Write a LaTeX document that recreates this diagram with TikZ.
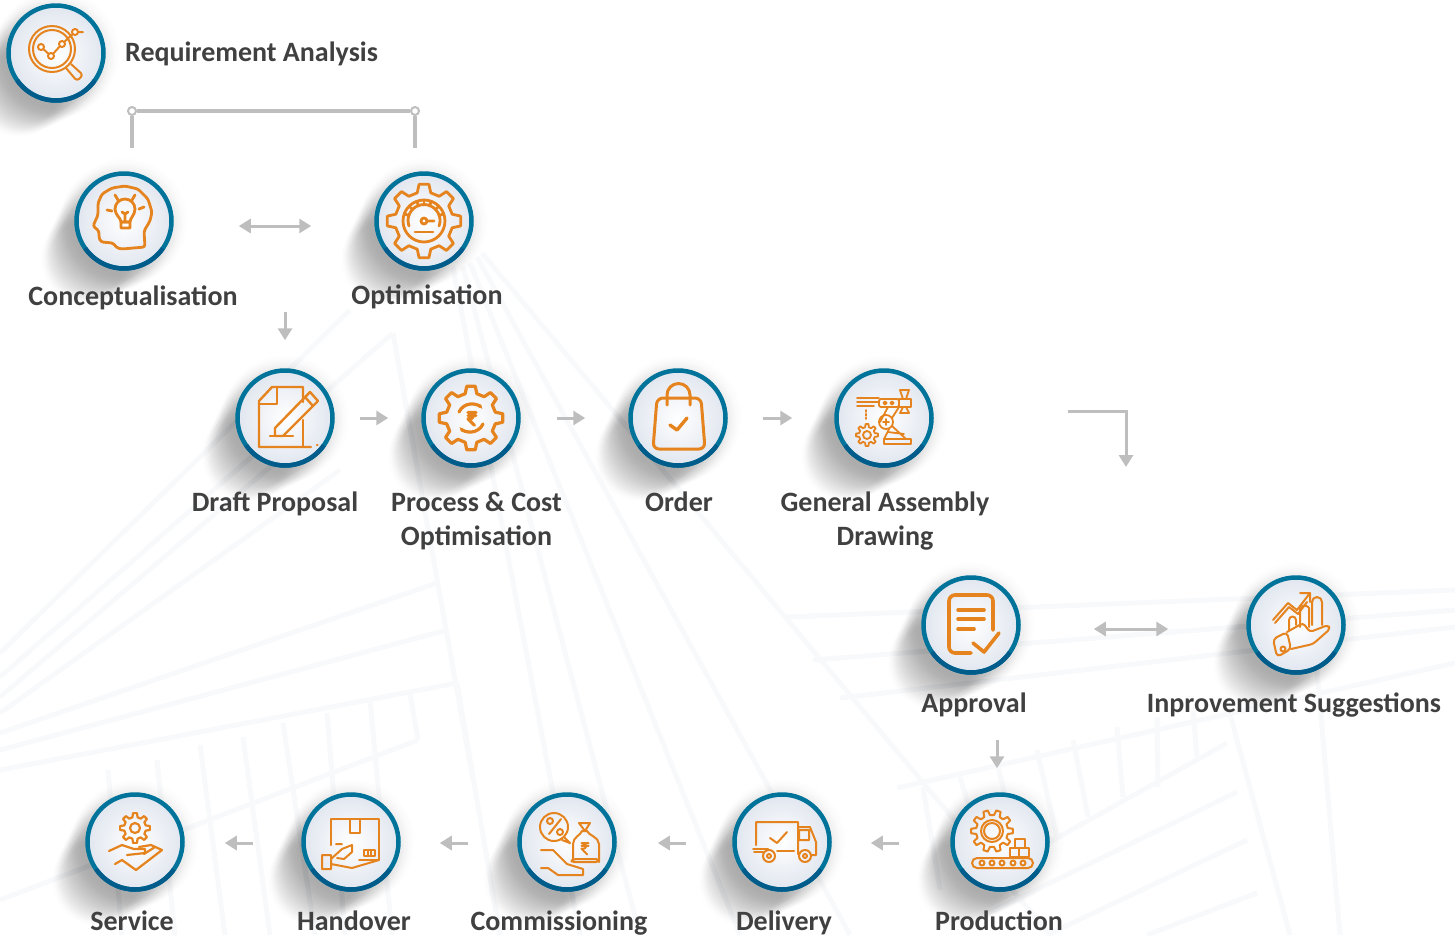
\documentclass[tikz,border=0pt]{standalone}
\usepackage{fontspec}
\setmainfont{Carlito}
\usetikzlibrary{arrows.meta,fadings}
\definecolor{ringblue}{HTML}{00739A}
\definecolor{ringdeep}{HTML}{005C8A}
\definecolor{ballrim}{HTML}{E1E6EF}
\definecolor{icoorange}{HTML}{E5841F}
\definecolor{flowgrey}{HTML}{BEBEBE}
\definecolor{lblgrey}{HTML}{404040}
\definecolor{bgstripe}{HTML}{F7F9FB}
\tikzset{
    ico/.style={draw=icoorange, line cap=round, line join=round},
    stage/.style={circle, draw=ringblue, line width=4.5pt, minimum size=95pt, inner sep=0pt, inner color=white, outer color=ballrim},
    lbl/.style={font=\bfseries\fontsize{28}{34}\selectfont, text=lblgrey, anchor=base, align=center, inner sep=0pt},
    flow/.style={-{Triangle[length=12pt,width=14pt]}, draw=flowgrey, line width=3pt},
    flowboth/.style={{Triangle[length=12pt,width=14pt]}-{Triangle[length=12pt,width=14pt]}, draw=flowgrey, line width=3pt},
    bgline/.style={draw=bgstripe, line width=5pt},
    ringend/.style={circle, draw=flowgrey, fill=white, line width=2pt, minimum size=8pt, inner sep=0pt}
}
\newcommand{\gearat}[5]{\begin{scope}[shift={(#1,#2)}]
    \pgfmathsetmacro\gs{360/#5}
    \draw[ico] ({-.3*\gs}:#4) \foreach \k in {1,...,#5} { -- ({(\k-1)*\gs-.17*\gs}:#3) -- ({(\k-1)*\gs+.17*\gs}:#3) -- ({(\k-1)*\gs+.3*\gs}:#4) -- ({\k*\gs-.3*\gs}:#4) } -- cycle;
\end{scope}}
\newcommand{\rupeeat}[3]{\begin{scope}[shift={(#1,#2)},scale=#3]
    \draw[ico] (-5,-7) -- (5,-7) (-5,-3) -- (5,-3) (-5,-7) .. controls (4,-7) and (4,2) .. (-5,1) -- (3,9);
\end{scope}}
\tikzset{
    pics/glow/.style={code={
        \foreach \k in {0,...,10} {
            \fill[black, opacity=.036, path fading=circle with fuzzy edge 20 percent] ({-3.8*\k},{3.8*\k}) circle ({64-1.8*\k});
        }
    }},
    pics/reqico/.style={code={
        \draw[ico] (-4,-4) circle (23) (-4,-4) circle (19);
        \draw[ico] (-15,-6) -- (-5,3) -- (6,-9) -- (19,-21) -- (27,-21);
        \foreach \p in {(-15,-6),(-5,3),(6,-9),(19,-21)} \draw[ico, fill=white] \p circle (3);
        \draw[ico, rounded corners=3pt] (10,15) -- (21,28) -- (27,22) -- (15,11);
    }},
    pics/headico/.style={code={
        \draw[ico, rounded corners=2.5pt] (21,26) -- (-2,28) -- (-7,27) -- (-11,22) -- (-23,21) -- (-25,17) -- (-25,10) -- (-31,5) -- (-26,-6) -- (-26,-18) -- (-22,-27) -- (-12,-33) -- (1,-35) -- (14,-32) -- (24,-22) -- (28,-9) -- (26,0) -- (20,10) -- cycle;
        \draw[ico] (-3,1) .. controls (-3,-3) and (-9,-6) .. (-9,-12) arc (180:360:10) .. controls (11,-6) and (6,-3) .. (6,1) -- cycle;
        \draw[ico] (-3,1) rectangle (6,7) (1,1) -- (1,-7) (-2,-9) -- (1,-7) -- (4,-9);
        \draw[ico] (-17,-11) -- (-12,-10) (-9,-26) -- (-6,-21) (11,-26) -- (8,-21) (20,-14) -- (15,-12);
    }},
    pics/dialico/.style={code={
        \gearat{0}{0}{37}{29}{8}
        \draw[ico] (0,0) circle (21);
        \draw[ico] (-15,5) arc (160:380:16);
        \foreach \a in {200,225,250,270,290,315,340} \draw[ico] (\a:16) -- (\a:21);
        \draw[ico] (0,0) circle (3) (3,0) -- (10,0);
        \draw[ico] (-9,11) -- (9,11);
    }},
    pics/draftico/.style={code={
        \draw[ico] (18,-16) -- (18,-31) -- (-13,-31) -- (-26,-17) -- (-26,29) -- (26,29);
        \draw[ico] (18,2) -- (18,29) (-8,-31) -- (-8,-14) -- (-26,-14);
        \draw[ico] (-10,10) -- (25,-26) -- (33,-17) -- (-2,18) -- (-10,18) -- cycle (20,-21) -- (28,-12);
        \draw[ico] (-15,18) -- (8,18) (32,27) -- (32.5,27);
    }},
    pics/costico/.style={code={
        \gearat{0}{0}{32}{25}{8}
        \draw[ico, -{Stealth[length=5pt]}] (-12,-6) arc (205:320:14);
        \draw[ico, -{Stealth[length=5pt]}] (12,6) arc (25:140:14);
        \rupeeat{1}{0}{.8}
    }},
    pics/bagico/.style={code={
        \draw[ico, rounded corners=6pt] (-21,-20) -- (23,-20) -- (27,31) -- (-25,31) -- cycle;
        \draw[ico] (-11,-13) -- (-11,-23) arc (180:360:11.5) -- (12,-13);
        \draw[ico, line width=3.4pt] (-8,7) -- (-1,12) -- (9,0);
    }},
    pics/robotico/.style={code={
        \draw[ico, rounded corners=2pt] (-5,-19) rectangle (15,-11);
        \draw[ico] (1,-15) circle (1.6) (8,-15) circle (1.6);
        \draw[ico] (-27,-20) -- (-5,-20) (-27,-16) -- (-5,-16) (-27,-12) -- (-10,-12);
        \draw[ico, dotted] (-18,-8) -- (-18,1);
        \draw[ico] (15,-19) rectangle (27,-11);
        \draw[ico] (16,-28) -- (25,-28) -- (22,-19) -- (19,-19) -- cycle (16,-5) -- (25,-5) -- (22,-11) -- (19,-11) -- cycle;
        \gearat{-17}{17}{11}{8}{8}
        \draw[ico] (-17,17) circle (4);
        \draw[ico] (2,4) circle (7) (-1,4) -- (5,4) (2,1) -- (2,7);
        \draw[ico] (4,-11) -- (-4,4) (15,-11) -- (8,0);
        \draw[ico] (5,11) -- (0,21) (8,8) -- (22,21) (4,14) -- (20,16);
        \draw[ico] (0,21) rectangle (27,26);
    }},
    pics/apprico/.style={code={
        \draw[ico, rounded corners=6pt] (22,5) -- (22,-30) -- (-22,-30) -- (-22,28) -- (0,28);
        \draw[ico] (-13,-15) -- (13,-15) (-13,-6) -- (13,-6) (-13,4) -- (3,4);
        \draw[ico] (2,18) -- (13,27) -- (28,8);
    }},
    pics/growico/.style={code={
        \draw[ico] (-23,-5) -- (-8,-22) -- (1,-15) -- (14,-32) (4,-32) -- (14,-32) -- (14,-23);
        \draw[ico] (-21,-2) -- (-7,-18) -- (2,-11) -- (11,-23);
        \draw[ico] (-7,5) -- (-7,-5) arc (180:360:3.5) -- (0,0);
        \draw[ico, rounded corners=2pt] (4,2) -- (4,-15) arc (180:360:4.5) -- (13,2);
        \draw[ico] (16,0) -- (16,-23) arc (180:360:5) -- (26,0);
        \draw[ico, rounded corners=4pt] (-23,14) -- (-9,7) -- (-5,24) -- (-19,32) -- cycle;
        \draw[ico, rounded corners=3pt] (-9,7) -- (7,-2) -- (14,7) -- (32,0) -- (34,4) -- (17,19) -- (-5,24);
        \draw[ico] (-13,24) circle (2.5);
    }},
    pics/prodico/.style={code={
        \gearat{-8}{-11}{21}{16}{10}
        \draw[ico] (-8,-11) circle (11) (-8,-11) circle (8);
        \draw[ico, rounded corners=5pt] (-28,16) rectangle (33,26);
        \foreach \x in {-18,-8,2,13,23} \draw[ico] (\x,21) circle (2.5);
        \draw[ico] (10,6) rectangle (19,15) (19,6) rectangle (29,15) (15,-3) rectangle (25,6);
    }},
    pics/truckico/.style={code={
        \draw[ico] (-26,3) -- (-26,-20) -- (16,-20) -- (16,12) (-12,-4) -- (-5,1) -- (5,-10);
        \draw[ico] (16,-15) -- (28,-15) -- (34,0) -- (34,13) -- (29,13) (17,-12) rectangle (27,-2);
        \draw[ico] (-13,14) circle (6) (-13,14) circle (2) (23,14) circle (6) (23,14) circle (2);
        \draw[ico] (-5,9) -- (12,9) (-29,7) -- (-14,7) (-28,10) -- (-19,10);
    }},
    pics/offerico/.style={code={
        \draw[ico] (-13,-15) circle (14);
        \draw[ico] (-3,-5) -- (3,1) -- (-5,-2);
        \draw[ico] (-18,-8) -- (-6,-23) (-17,-21) circle (3) (-7,-10) circle (3);
        \draw[ico, rounded corners=3pt] (4,20) -- (32,20) -- (32,17) -- (6,17) -- cycle;
        \draw[ico] (6,17) -- (6,2) .. controls (6,-5) and (14,-7) .. (15,-11) -- (20,-11) .. controls (21,-7) and (32,-5) .. (32,2) -- (32,17);
        \draw[ico] (12,-19) -- (23,-19) -- (18,-11) -- cycle;
        \rupeeat{18}{6}{.7}
        \draw[ico] (-26,8) -- (-14,8) -- (0,22) -- (16,27) -- (16,33) -- (-9,33) -- (-19,26) -- (-26,26);
    }},
    pics/handico/.style={code={
        \draw[ico] (-20,3) -- (-20,-23) -- (28,-23) -- (28,18) -- (8,18);
        \draw[ico] (-1,-23) -- (-1,-9) -- (9,-9) -- (9,-23) (13,8) rectangle (24,14) (16.5,8) -- (16.5,14) (20,8) -- (20,14);
        \draw[ico] (-29,13) rectangle (-20,27) (-20,22) -- (1,26) -- (28,18);
        \draw[ico] (-20,17) -- (-9,7) -- (1,3) -- (1,10) -- (-7,17) -- (-14,16) (-15,2) -- (-9,2);
    }},
    pics/serviceico/.style={code={
        \gearat{0}{-14}{15}{11}{8}
        \draw[ico] (0,-14) circle (5);
        \draw[ico] (-26,9) -- (-13,3) -- (-1,7) -- (10,7) -- (10,11) -- (-8,13);
        \draw[ico] (4,5) -- (16,3) -- (27,8) -- (1,28) -- (-13,18) -- (-20,22);
        \draw[ico] (9,12) -- (20,5);
    }}
}
\begin{document}
\begin{tikzpicture}[x=1pt, y=-1pt]
\clip (0,0) rectangle (1455,935);
\foreach \ax/\ay/\bx/\by in {453/267/580/935, 463/267/640/935, 470/263/740/935, 477/257/850/935, 482/253/1050/935,
    393/333/473/780, 350/310/0/653, 393/333/0/677, 290/450/0/697, 340/470/0/713, 437/583/0/733, 447/630/0/750, 457/683/0/770,
    108/770/122/935, 157/760/175/935, 200/745/225/935, 243/737/270/935, 283/723/315/935, 327/713/345/935, 370/700/392/935, 410/693/418/740,
    418/740/0/900, 457/683/500/935,
    787/617/1455/590, 813/660/1455/610, 840/698/1455/627, 897/788/1455/663,
    923/787/940/890, 960/777/990/875, 997/763/1020/857, 1037/750/1057/837, 1073/740/1088/817, 1117/727/1123/797, 1157/717/1158/787, 1193/710/1197/757, 1227/703/1290/935,
    1227/743/987/877, 1237/792/980/917, 1247/840/1047/935, 1257/893/1147/935, 1310/590/1340/935} {
    \draw[bgline] (\ax,\ay) -- (\bx,\by);
}

\foreach \cx/\cy in {56/53, 124/221, 424/221, 285/418, 471/418, 678/418, 884/418, 971/625, 1296/625, 1000/842, 782/842, 567/842, 351/842, 135/842} {
    \pic at (\cx,\cy) {glow};
}

\node[stage] (req) at (56,53) {};
\node[stage] (concept) at (124,221) {};
\node[stage] (optim) at (424,221) {};
\node[stage] (draft) at (285,418) {};
\node[stage] (cost) at (471,418) {};
\node[stage] (order) at (678,418) {};
\node[stage] (assembly) at (884,418) {};
\node[stage] (approval) at (971,625) {};
\node[stage] (improve) at (1296,625) {};
\node[stage] (production) at (1000,842) {};
\node[stage] (delivery) at (782,842) {};
\node[stage] (commission) at (567,842) {};
\node[stage] (handover) at (351,842) {};
\node[stage] (service) at (135,842) {};

\foreach \st in {req,concept,optim,draft,cost,order,assembly,approval,improve,production,delivery,commission,handover,service} {
    \draw[ringdeep, line width=4.5pt] ([shift={(35:47.5)}]\st.center) arc (35:145:47.5);
}

\pic[line width=2pt] at (req) {reqico};
\pic[line width=2.8pt] at (concept) {headico};
\pic[line width=2.8pt] at (optim) {dialico};
\pic[line width=2.4pt] at (draft) {draftico};
\pic[line width=3.2pt] at (cost) {costico};
\pic[line width=3pt] at (order) {bagico};
\pic[line width=1.8pt] at (assembly) {robotico};
\pic[line width=3.6pt] at (approval) {apprico};
\pic[line width=2pt] at (improve) {growico};
\pic[line width=2pt] at (production) {prodico};
\pic[line width=2pt] at (delivery) {truckico};
\pic[line width=2pt] at (commission) {offerico};
\pic[line width=2pt] at (handover) {handico};
\pic[line width=2.2pt] at (service) {serviceico};

\node[lbl, anchor=base west] (reqlbl) at (125,61) {Requirement Analysis};
\node[lbl] (conceptlbl) at (133,305) {Conceptualisation};
\node[lbl] (optimlbl) at (427,304) {Optimisation};
\node[lbl] (draftlbl) at (275,511) {Draft Proposal};
\node[lbl] (costlbl) at (476.5,545) {Process \& Cost\\Optimisation};
\node[lbl] (orderlbl) at (679,511) {Order};
\node[lbl] (assemblylbl) at (885,545) {General Assembly\\Drawing};
\node[lbl] (approvallbl) at (974,712) {Approval};
\node[lbl] (improvelbl) at (1294,712) {Inprovement Suggestions};
\node[lbl] (productionlbl) at (999,930) {Production};
\node[lbl] (deliverylbl) at (784,930) {Delivery};
\node[lbl] (commissionlbl) at (559,930) {Commissioning};
\node[lbl] (handoverlbl) at (354,930) {Handover};
\node[lbl] (servicelbl) at (132,930) {Service};

\coordinate (brL) at (132,148);
\coordinate (brR) at (415,148);
\node[ringend] (ringL) at (132,111) {};
\node[ringend] (ringR) at (415,111) {};
\draw[flowgrey, line width=3.4pt] (brL) -- (ringL) -- (ringR) -- (brR);

\coordinate (down1) at (285,312);
\coordinate (down2) at (997,740);
\coordinate (elbowend) at (1126,467);

\draw[flowboth, shorten <=65pt, shorten >=63pt] ([yshift=-5pt]concept.east) -- ([yshift=-5pt]optim.west);
\draw[flow, shorten >=28pt] (down1) -- (down1 |- draft.north);
\draw[flow, shorten <=25pt, shorten >=33pt] (draft) -- (cost);
\draw[flow, shorten <=36pt, shorten >=43pt] (cost) -- (order);
\draw[flow, shorten <=35pt, shorten >=42pt] (order) -- (assembly);
\draw[flow, shorten <=134pt] ([yshift=7pt]assembly.east) -| (elbowend);
\draw[flowboth, shorten <=73pt, shorten >=78pt] ([yshift=-4pt]approval.east) -- ([yshift=-4pt]improve.west);
\draw[flow, shorten >=24pt] (down2) -- (down2 |- production.north);
\draw[flow, shorten <=51pt, shorten >=39pt] ([yshift=-1pt]production.west) -- ([yshift=-1pt]delivery.east);
\draw[flow, shorten <=46pt, shorten >=41pt] ([yshift=-1pt]delivery.west) -- ([yshift=-1pt]commission.east);
\draw[flow, shorten <=49pt, shorten >=39pt] ([yshift=-1pt]commission.west) -- ([yshift=-1pt]handover.east);
\draw[flow, shorten <=48pt, shorten >=40pt] ([yshift=-1pt]handover.west) -- ([yshift=-1pt]service.east);
\end{tikzpicture}
\end{document}
